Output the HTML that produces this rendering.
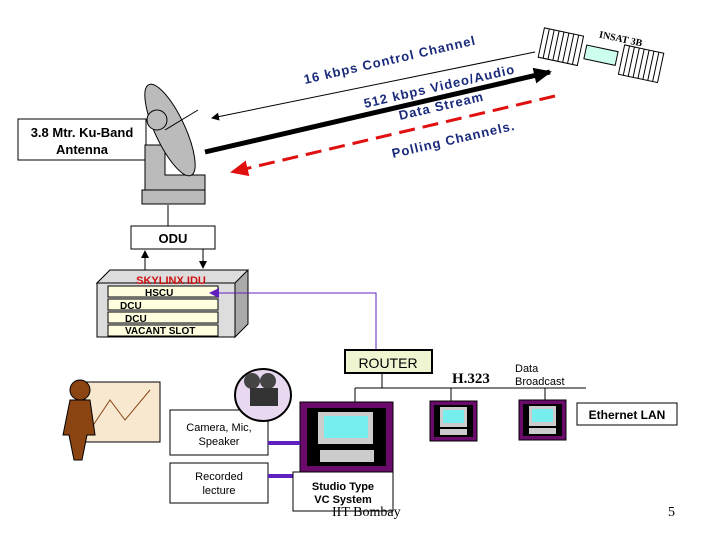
<!DOCTYPE html><html><head><style>body{margin:0;background:#fff}svg{display:block}</style></head><body>
<svg width="720" height="540" viewBox="0 0 720 540" xmlns="http://www.w3.org/2000/svg" font-family="Liberation Sans, sans-serif">
<defs>
<marker id="ak" markerWidth="8" markerHeight="8" refX="7" refY="4" orient="auto" markerUnits="userSpaceOnUse"><path d="M0,0L8,4L0,8z" fill="#000"/></marker>
<marker id="ab" markerWidth="18" markerHeight="16" refX="16" refY="8" orient="auto" markerUnits="userSpaceOnUse"><path d="M0,0L18,8L0,16z" fill="#000"/></marker>
<marker id="ar" markerWidth="18" markerHeight="16" refX="16" refY="8" orient="auto" markerUnits="userSpaceOnUse"><path d="M0,0L18,8L0,16z" fill="#e01010"/></marker>
<marker id="ap" markerWidth="10" markerHeight="10" refX="9" refY="5" orient="auto" markerUnits="userSpaceOnUse"><path d="M0,0L10,5L0,10z" fill="#6020c0"/></marker>
</defs>
<!-- satellite -->
<g transform="rotate(12 600 55)">
<rect x="540" y="40" width="40" height="30" fill="#fff" stroke="#000"/>
<path d="M545,40v30M550,40v30M555,40v30M560,40v30M565,40v30M570,40v30M575,40v30" stroke="#000"/>
<rect x="622" y="40" width="40" height="30" fill="#fff" stroke="#000"/>
<path d="M627,40v30M632,40v30M637,40v30M642,40v30M647,40v30M652,40v30M657,40v30" stroke="#000"/>
<rect x="585" y="48" width="32" height="14" fill="#cfe" stroke="#000"/>
<text x="595" y="38" font-family="Liberation Serif,serif" font-weight="bold" font-size="10">INSAT 3B</text>
</g>
<!-- links -->
<line x1="535" y1="52" x2="212" y2="118" stroke="#000" marker-end="url(#ak)"/>
<line x1="205" y1="152" x2="550" y2="72" stroke="#000" stroke-width="5" marker-end="url(#ab)"/>
<line x1="555" y1="96" x2="232" y2="172" stroke="#e01010" stroke-width="3" stroke-dasharray="16,8" marker-end="url(#ar)"/>
<g fill="#1a2a7a" font-weight="bold" font-size="13">
<text transform="translate(305,84) rotate(-13)" letter-spacing="1">16 kbps Control Channel</text>
<text transform="translate(365,108) rotate(-13)" letter-spacing="1">512 kbps Video/Audio</text>
<text transform="translate(400,120) rotate(-13)" letter-spacing="1">Data Stream</text>
<text transform="translate(393,158) rotate(-13)" letter-spacing="1">Polling Channels.</text>
</g>
<!-- antenna label -->
<rect x="18" y="119" width="128" height="41" fill="#fff" stroke="#000"/>
<text x="82" y="137" text-anchor="middle" font-weight="bold" font-size="13">3.8 Mtr. Ku-Band</text>
<text x="82" y="154" text-anchor="middle" font-weight="bold" font-size="13">Antenna</text>
<!-- antenna graphic -->
<g stroke="#000" fill="#bbb">
<rect x="142" y="190" width="63" height="14"/>
<path d="M145,190V145h20v30h40v15z"/>
<ellipse cx="170" cy="130" rx="15" ry="50" transform="rotate(-25 170 130)"/>
<circle cx="157" cy="120" r="10"/>
<line x1="165" y1="130" x2="198" y2="110"/>
</g>
<line x1="168" y1="205" x2="168" y2="226" stroke="#000"/>
<rect x="131" y="226" width="84" height="23" fill="#fff" stroke="#000"/>
<text x="173" y="243" text-anchor="middle" font-weight="bold" font-size="13">ODU</text>
<line x1="145" y1="270" x2="145" y2="251" stroke="#000" marker-end="url(#ak)"/>
<line x1="203" y1="249" x2="203" y2="268" stroke="#000" marker-end="url(#ak)"/>
<!-- IDU -->
<path d="M97,283L110,270H248V324L235,337V283z" fill="#aaa" stroke="#000"/>
<path d="M97,283L110,270H248L235,283z" fill="#ddd" stroke="#000"/>
<rect x="97" y="283" width="138" height="54" fill="#ddd" stroke="#000"/>
<g fill="#ffffe0" stroke="#000"><rect x="108" y="286" width="110" height="11"/><rect x="108" y="299" width="110" height="11"/><rect x="108" y="312" width="110" height="11"/><rect x="108" y="325" width="110" height="11"/></g>
<text x="171" y="284" text-anchor="middle" fill="#d01010" font-weight="bold" font-size="11">SKYLINX IDU</text>
<g font-weight="bold" font-size="10" fill="#000"><text x="145" y="296">HSCU</text><text x="120" y="309">DCU</text><text x="125" y="322">DCU</text><text x="125" y="334">VACANT SLOT</text></g>
<polyline points="376,350 376,293 210,293" fill="none" stroke="#6020c0" marker-end="url(#ap)"/>
<!-- router -->
<rect x="345" y="350" width="87" height="23" fill="#eef5d0" stroke="#000" stroke-width="2"/>
<text x="388" y="368" text-anchor="middle" font-size="14">ROUTER</text>
<path d="M382,373V388M355,388H586M355,388V402M451,388V402M545,388V402" stroke="#000" fill="none"/>
<text x="452" y="383" font-family="Liberation Serif,serif" font-weight="bold" font-size="15">H.323</text>
<text x="515" y="372" font-size="11">Data</text><text x="515" y="385" font-size="11">Broadcast</text>
<!-- computers -->
<rect x="300" y="402" width="93" height="70" fill="#6a0a6a" stroke="#000"/>
<rect x="307" y="408" width="79" height="58" fill="#000"/>
<rect x="318" y="412" width="55" height="32" fill="#ccc"/><rect x="324" y="416" width="44" height="22" fill="#7ee"/>
<rect x="320" y="450" width="54" height="12" fill="#ccc"/>
<g>
<rect x="430" y="401" width="47" height="40" fill="#6a0a6a" stroke="#000"/><rect x="434" y="405" width="39" height="32" fill="#000"/>
<rect x="440" y="407" width="27" height="20" fill="#ccc"/><rect x="443" y="410" width="21" height="13" fill="#7ee"/><rect x="440" y="429" width="27" height="6" fill="#ccc"/>
<rect x="519" y="400" width="47" height="40" fill="#6a0a6a" stroke="#000"/><rect x="523" y="404" width="39" height="32" fill="#000"/>
<rect x="529" y="406" width="27" height="20" fill="#ccc"/><rect x="532" y="409" width="21" height="13" fill="#7ee"/><rect x="529" y="428" width="27" height="6" fill="#ccc"/>
</g>
<rect x="577" y="403" width="100" height="22" fill="#fff" stroke="#000"/>
<text x="627" y="419" text-anchor="middle" font-weight="bold" font-size="12">Ethernet LAN</text>
<!-- inputs -->
<rect x="170" y="410" width="98" height="45" fill="#fff" stroke="#000"/>
<text x="219" y="431" text-anchor="middle" font-size="11">Camera, Mic,</text><text x="219" y="445" text-anchor="middle" font-size="11">Speaker</text>
<rect x="170" y="463" width="98" height="40" fill="#fff" stroke="#000"/>
<text x="219" y="480" text-anchor="middle" font-size="11">Recorded</text><text x="219" y="494" text-anchor="middle" font-size="11">lecture</text>
<path d="M268,443H300M268,476H300" stroke="#6020c0" stroke-width="4"/>
<rect x="293" y="472" width="100" height="39" fill="#fff" stroke="#000"/>
<text x="343" y="490" text-anchor="middle" font-weight="bold" font-size="11">Studio Type</text><text x="343" y="503" text-anchor="middle" font-weight="bold" font-size="11">VC System</text>
<!-- camera -->
<ellipse cx="263" cy="395" rx="28" ry="26" fill="#e8d8f0" stroke="#000" stroke-width="2"/>
<circle cx="252" cy="381" r="8" fill="#444"/><circle cx="268" cy="381" r="8" fill="#444"/>
<rect x="250" y="388" width="28" height="18" fill="#333"/>
<!-- man / chart -->
<rect x="85" y="382" width="75" height="60" fill="#f8e8d0" stroke="#000"/>
<path d="M90,430L110,400L125,420L150,390" stroke="#8b4513" fill="none"/>
<g fill="#8b4513" stroke="#000"><circle cx="80" cy="390" r="10"/><path d="M70,400h20l5,35h-8l-5,25h-8l-5,-25h-6z"/></g>
<text x="332" y="516" font-family="Liberation Serif,serif" font-size="14">IIT Bombay</text>
<text x="668" y="516" font-family="Liberation Serif,serif" font-size="14">5</text>
</svg>
</body></html>
